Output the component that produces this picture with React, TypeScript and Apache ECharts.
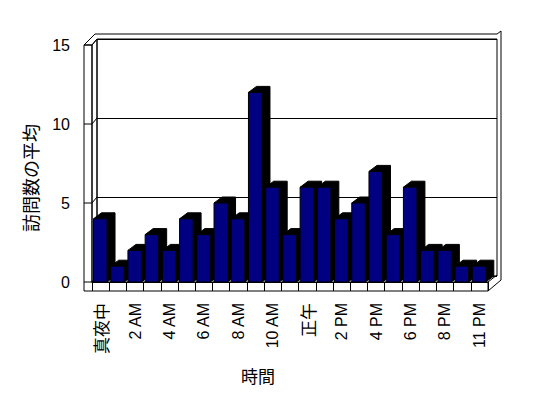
import React, { useEffect, useRef } from "react";
import * as echarts from "echarts";

const categories = [
  "真夜中", "1 AM", "2 AM", "3 AM", "4 AM", "5 AM", "6 AM", "7 AM", "8 AM", "9 AM", "10 AM", "11 AM",
  "正午", "1 PM", "2 PM", "3 PM", "4 PM", "5 PM", "6 PM", "7 PM", "8 PM", "10 PM", "11 PM",
];
const visits = [4, 1, 2, 3, 2, 4, 3, 5, 4, 12, 6, 3, 6, 6, 4, 5, 7, 3, 6, 2, 2, 1, 1];
const yTicks = [0, 5, 10, 15];
const yTitle = "訪問数の平均";
const xTitle = "時間";

// layout constants
const FL = 92, FR = 488, FT = 45, FB = 282; // front plane
const WDX = 5, WDY = -6; // wall depth
const SL = 84; // left slab outer
const FLOORB = 291; // floor slab bottom
const BR = 497, OUTR = 501, OUTT = 34;
const BDX = 8, BDY = -6; // bar depth
const Y_MAX = 15;

const LAT = "'Liberation Sans', Arial, sans-serif";
const CJK = "'Noto Sans CJK JP', sans-serif";

export default function App() {
  const ref = useRef<HTMLDivElement>(null);
  useEffect(() => {
    if (!ref.current) return;
    const chart = echarts.init(ref.current, null, { renderer: "svg" });
    const yPix = (v: number) => FB - ((FB - FT) * v) / Y_MAX;
    const line = (x1: number, y1: number, x2: number, y2: number) => ({
      type: "line",
      shape: { x1, y1, x2, y2 },
      style: { stroke: "#000", lineWidth: 1 },
      silent: true,
    });
    const frame: any[] = [];
    frame.push({
      type: "polygon",
      shape: { points: [[FL, FT], [FL + WDX, FT + WDY], [FL + WDX, FB + WDY], [FL, FB]] },
      style: { fill: "none", stroke: "#000", lineWidth: 1 },
    });
    frame.push({
      type: "polygon",
      shape: { points: [[SL, FT], [FL, FT], [FL, FB], [FR, FB], [FR, FLOORB], [SL, FLOORB]] },
      style: { fill: "none", stroke: "#000", lineWidth: 1 },
    });
    yTicks.forEach((t) => {
      const y = yPix(t);
      frame.push(line(SL, y, FL, y));
      frame.push(line(FL, y, FL + WDX, y + WDY));
    });
    frame.push(line(SL, FT, SL + 11, OUTT));
    frame.push(line(SL + 11, OUTT, BR, OUTT));
    frame.push(line(BR, OUTT, OUTR, OUTT - 3));
    frame.push(line(OUTR, OUTT - 3, OUTR, FLOORB - 11));
    frame.push(line(FR, FB, BR, FB + WDY - 1));
    frame.push(line(FR, FLOORB, OUTR, FLOORB - 11));

    const option: any = {
      animation: false,
      backgroundColor: "#fff",
      grid: [
        { left: FL, top: FT, width: FR - FL, height: FB - FT, show: false },
        {
          left: FL + WDX,
          top: FT + WDY,
          width: BR - FL - WDX,
          height: FB - FT,
          show: true,
          borderColor: "#000",
          borderWidth: 1,
          backgroundColor: "#fff",
        },
      ],
      xAxis: [
        {
          type: "category",
          gridIndex: 0,
          data: categories,
          boundaryGap: true,
          axisLine: { show: true, lineStyle: { color: "#000", width: 1 } },
          axisTick: { show: true, interval: 0, length: FLOORB - FB, inside: false, lineStyle: { color: "#000" } },
          axisLabel: {
            interval: 1,
            rotate: 90,
            margin: 21,
            color: "#000",
            fontSize: 16,
            fontFamily: LAT,
            formatter: (v: string) => (/[^\x00-\x7f]/.test(v) ? `{c|${v}}` : v),
            rich: { c: { fontSize: 17, fontFamily: CJK, color: "#000" } },
          },
          splitLine: { show: false },
        },
        {
          type: "category",
          gridIndex: 1,
          data: categories,
          show: false,
        },
      ],
      yAxis: [
        {
          type: "value",
          gridIndex: 0,
          min: 0,
          max: Y_MAX,
          interval: 5,
          axisLine: { show: false },
          axisTick: { show: false },
          splitLine: { show: false },
          axisLabel: { margin: 22, color: "#000", fontSize: 16, fontFamily: LAT },
        },
        {
          type: "value",
          gridIndex: 1,
          min: 0,
          max: Y_MAX,
          interval: 5,
          axisLine: { show: false },
          axisTick: { show: false },
          axisLabel: { show: false },
          splitLine: { show: true, lineStyle: { color: "#000", width: 1 } },
        },
      ],
      graphic: [
        ...frame,
        {
          type: "text",
          x: 30,
          y: 178,
          rotation: Math.PI / 2,
          style: {
            text: yTitle,
            fill: "#000",
            font: `18px ${CJK}`,
            align: "center",
            verticalAlign: "middle",
          },
        },
        {
          type: "text",
          x: 258,
          y: 375,
          style: {
            text: xTitle,
            fill: "#000",
            font: `17px ${CJK}`,
            align: "center",
            verticalAlign: "middle",
          },
        },
      ],
      series: [
        {
          type: "custom",
          xAxisIndex: 0,
          yAxisIndex: 0,
          z: 10,
          data: visits.map((v, i) => [i, v]),
          encode: { x: 0, y: 1 },
          renderItem: (params: any, api: any) => {
            const idx = api.value(0);
            const v = api.value(1);
            const top = api.coord([idx, v]);
            const base = api.coord([idx, 0]);
            const band = api.size([1, 0])[0];
            const x0 = top[0] - band / 2 + 1.5;
            const w = band - 3.7;
            const yT = top[1];
            const yB = base[1];
            return {
              type: "group",
              children: [
                {
                  type: "polygon",
                  shape: {
                    points: [
                      [x0, yT],
                      [x0 + BDX, yT + BDY],
                      [x0 + w + BDX, yT + BDY],
                      [x0 + w + BDX, yB + BDY],
                      [x0 + w, yB],
                      [x0 + w, yT],
                    ],
                  },
                  style: { fill: "#000", stroke: "#000", lineWidth: 1 },
                },
                {
                  type: "rect",
                  shape: { x: x0, y: yT, width: w, height: yB - yT },
                  style: { fill: "#000080", stroke: "#000", lineWidth: 1 },
                },
              ],
            };
          },
        },
      ],
    };
    chart.setOption(option);
    return () => chart.dispose();
  }, []);
  return (
    <div
      ref={ref}
      style={{ position: "fixed", left: 0, top: 0, width: 548, height: 398, background: "#fff" }}
    />
  );
}
